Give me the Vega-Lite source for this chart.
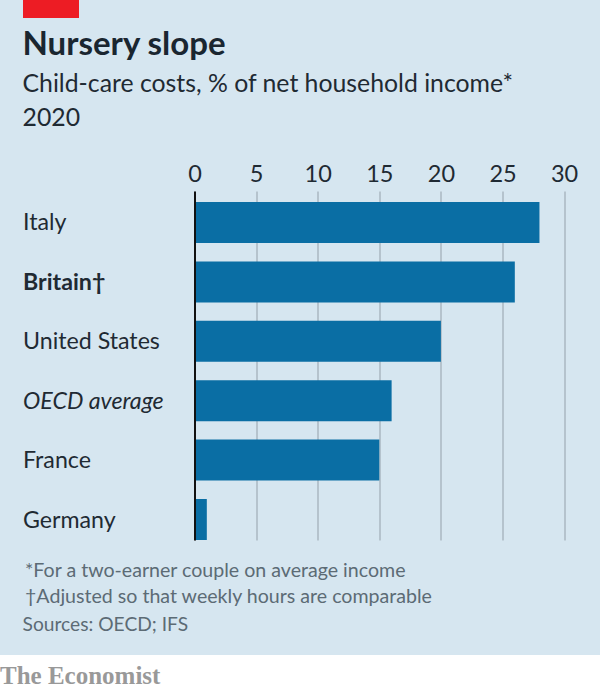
{
  "$schema": "https://vega.github.io/schema/vega-lite/v6.json",
  "width": 369.6,
  "height": 349,
  "autosize": "none",
  "padding": {"left": 194.5, "top": 191, "right": 35.9, "bottom": 151},
  "background": "#d6e6f0",
  "title": {
    "text": "Nursery slope",
    "subtitle": ["Child-care costs, % of net household income*", "2020"],
    "anchor": "start",
    "frame": "group",
    "dx": -172,
    "offset": -131,
    "font": "Lato",
    "fontSize": 33,
    "fontWeight": "bold",
    "color": "#1a2630",
    "subtitleFont": "Lato",
    "subtitleFontSize": 24.8,
    "subtitleColor": "#1f2a33",
    "subtitleLineHeight": 34,
    "subtitlePadding": 10
  },
  "config": {
    "view": {"stroke": null},
    "axis": {"labelFont": "Lato", "titleFont": "Lato"}
  },
  "resolve": {"axis": {"x": "independent", "y": "independent"}},
  "layer": [
    {
      "data": {"values": [{"part": "strip"}]},
      "mark": {"type": "rect", "fill": "#ffffff", "x": -194.5, "x2": 405.5, "y": 464, "y2": 500}
    },
    {
      "data": {"values": [{"part": "tab"}]},
      "mark": {"type": "rect", "fill": "#ed1c24", "x": -171.5, "x2": -115.5, "y": -191, "y2": -173}
    },
    {
      "data": {"values": [{"part": "brand"}]},
      "mark": {"type": "text", "text": "The Economist", "font": "Liberation Serif", "fontSize": 25, "fontWeight": "bold", "color": "#999999", "align": "left", "baseline": "alphabetic", "x": -194.5, "y": 493}
    },
    {
      "data": {"name": "costs"},
      "mark": {"type": "bar", "color": "#0a6ea4"},
      "encoding": {
        "x": {
          "field": "cost",
          "type": "quantitative",
          "scale": {"domain": [0, 30], "nice": false},
          "axis": {
            "orient": "top",
            "title": null,
            "values": [0, 5, 10, 15, 20, 25, 30],
            "domain": false,
            "ticks": false,
            "labelFontSize": 23.5,
            "labelColor": "#1f2a33",
            "labelPadding": 5,
            "labelFlush": false,
            "grid": true,
            "gridColor": "#b5c3cd",
            "gridWidth": 2
          }
        },
        "y": {
          "field": "country",
          "type": "nominal",
          "sort": null,
          "scale": {"paddingInner": 0.31, "paddingOuter": 0.0926, "align": 1},
          "axis": {
            "orient": "left",
            "title": null,
            "zindex": 1,
            "domainColor": "#111111",
            "domainWidth": 2,
            "ticks": false,
            "labelAlign": "left",
            "labelPadding": 172,
            "labelFontSize": 23.2,
            "labelOffset": 1,
            "labelColor": "#1f2a33",
            "labelFontWeight": {"condition": {"test": "datum.value == 'Britain†'", "value": "bold"}, "value": "normal"},
            "labelFontStyle": {"condition": {"test": "datum.value == 'OECD average'", "value": "italic"}, "value": "normal"}
          }
        }
      }
    },
    {
      "data": {"name": "costs"},
      "mark": {"type": "bar", "opacity": 0},
      "encoding": {
        "x": {
          "field": "cost",
          "type": "quantitative",
          "scale": {"domain": [0, 30], "nice": false},
          "axis": {
            "orient": "bottom",
            "labels": false,
            "ticks": false,
            "domain": false,
            "grid": false,
            "title": ["*For a two-earner couple on average income", "†Adjusted so that weekly hours are comparable"],
            "titleFontSize": 19.6,
            "titleFontWeight": "normal",
            "titleColor": "#5c6b75",
            "titleAlign": "left",
            "titleBaseline": "alphabetic",
            "titleLineHeight": 26,
            "titleX": -170,
            "titleY": 36
          }
        },
        "y": {
          "field": "country",
          "type": "nominal",
          "sort": null,
          "scale": {"paddingInner": 0.31, "paddingOuter": 0.0926, "align": 1},
          "axis": {
            "orient": "right",
            "labels": false,
            "ticks": false,
            "domain": false,
            "grid": false,
            "title": "Sources: OECD; IFS",
            "titleFontSize": 19.2,
            "titleFontWeight": "normal",
            "titleColor": "#5c6b75",
            "titleAngle": 0,
            "titleAlign": "left",
            "titleBaseline": "alphabetic",
            "titleX": -542,
            "titleY": 439
          }
        }
      }
    }
  ],
  "datasets": {
    "costs": [
      {"country": "Italy", "cost": 28},
      {"country": "Britain†", "cost": 26},
      {"country": "United States", "cost": 20},
      {"country": "OECD average", "cost": 16},
      {"country": "France", "cost": 15},
      {"country": "Germany", "cost": 1}
    ]
  }
}
